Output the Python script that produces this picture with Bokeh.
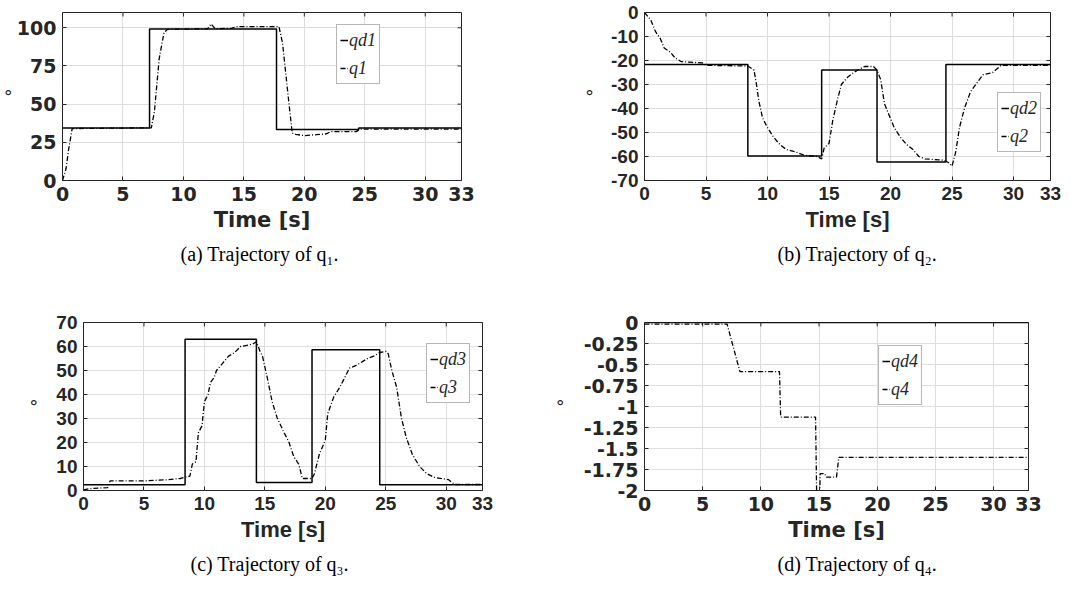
import math
from bokeh.plotting import figure
from bokeh.models import Range1d, FixedTicker, Legend, LegendItem, Title
from bokeh.layouts import column, row
from bokeh.embed import file_html
from bokeh.resources import INLINE

# ---------------- data ----------------
X_TICKS = [0, 5, 10, 15, 20, 25, 30, 33]
X_LABEL = "Time [s]"
Y_LABEL = "°"

# (a) joint 1
Y1_TICKS = [0, 25, 50, 75, 100]
Y1_LABELS = ["0", "25", "50", "75", "100"]
T_QD1 = [0, 7.2, 17.7, 24.5, 33]
QD1 = [34.3, 99.2, 33.4, 34.3, 34.3]
T_Q1 = [0, 0.3, 0.5, 0.8, 7.35, 7.6, 8.0, 8.4, 8.7, 12.0, 12.3, 12.6, 13.0, 14.0, 14.5,
        17.9, 18.2, 18.6, 19.0, 19.3, 20.0, 21.0, 21.8, 22.2, 24.3, 24.6, 33]
Q1 = [0, 8, 20, 34, 34.5, 45, 80, 97, 99, 99.3, 102.5, 99.5, 99.5, 99.7, 100.8,
      100.8, 90, 60, 31, 30.2, 29.4, 30, 30.5, 32, 32, 33.6, 33.6]

# (b) joint 2
Y2_TICKS = [-70, -60, -50, -40, -30, -20, -10, 0]
Y2_LABELS = ["-70", "-60", "-50", "-40", "-30", "-20", "-10", "0"]
T_QD2 = [0, 8.4, 14.4, 18.9, 24.5, 33]
QD2 = [-21.7, -59.8, -24.0, -62.3, -21.7, -21.7]
T_Q2 = [0, 0.5, 0.9, 1.3, 1.6, 2.1, 2.5, 3.0, 4.7, 5.0, 8.4, 8.9, 9.1, 9.3, 9.6, 10.0,
        10.5, 11.0, 11.5, 12.2, 13.0, 14.0, 14.4, 14.6, 15.0, 15.3, 15.7, 16.0, 16.5,
        17.0, 17.5, 17.9, 18.6, 18.9, 19.2, 19.5, 19.9, 20.3, 20.8, 21.3, 21.8, 22.3,
        22.8, 24.3, 24.7, 25.0, 25.3, 25.6, 26.0, 26.5, 27.0, 27.5, 28.3, 29.0, 33]
Q2 = [0, -3, -8, -11, -14.8, -16.5, -19, -20.5, -21, -22, -22.3, -24, -30, -37, -44,
      -48, -52, -55, -57, -58, -59.5, -60, -61, -56.5, -54.5, -45, -36, -30, -27, -25,
      -23.5, -22.5, -22.5, -24, -28, -38, -43, -48, -52, -55, -57, -60, -61, -61.5,
      -62.5, -64, -58, -48, -40, -33, -29.5, -26, -25, -22, -22]

# (c) joint 3
Y3_TICKS = [0, 10, 20, 30, 40, 50, 60, 70]
Y3_LABELS = ["0", "10", "20", "30", "40", "50", "60", "70"]
T_QD3 = [0, 8.4, 14.3, 18.9, 24.5, 33]
QD3 = [2.4, 63.0, 3.3, 58.6, 2.4, 2.4]
T_Q3 = [0, 0.5, 2.0, 2.2, 5.0, 7.0, 8.0, 8.4, 8.8, 9.0, 9.3, 9.5, 9.8, 10.0, 10.3, 10.5,
        10.8, 11.0, 11.5, 12.0, 12.5, 13.0, 13.5, 14.0, 14.3, 14.6, 14.8, 15.2, 15.6,
        16.0, 16.5, 17.0, 17.4, 17.8, 18.1, 18.9, 19.1, 19.5, 20.0, 20.2, 20.7, 21.2,
        21.5, 22.0, 22.5, 23.0, 23.5, 24.0, 24.5, 25.0, 25.2, 25.5, 25.9, 26.3, 26.7,
        27.2, 27.8, 28.4, 29.0, 30.2, 30.7, 33]
Q3 = [0.3, 0.8, 1.2, 4, 4, 4.5, 5, 5.5, 6, 11, 12, 24, 27, 37, 40, 45, 47, 50, 53, 56,
      57.5, 60, 60.5, 61, 62, 58, 56, 47, 37, 30.5, 25, 20, 14, 11, 5, 5, 7, 15, 21, 32,
      39, 43, 46, 51, 52, 53.5, 55, 56, 57.5, 58, 57, 50, 43, 30, 22, 15, 10, 7, 5.5,
      4.5, 2.5, 2.5]

# (d) joint 4
Y4_TICKS = [-2, -1.75, -1.5, -1.25, -1, -0.75, -0.5, -0.25, 0]
Y4_LABELS = ["-2", "-1.75", "-1.5", "-1.25", "-1", "-0.75", "-0.5", "-0.25", "0"]
T_QD4 = [0, 33]
QD4 = [0, 0]
T_Q4 = [0, 7.1, 8.2, 11.6, 11.7, 14.7, 14.8, 15.05, 15.1, 15.5, 15.6, 16.5, 16.7, 33]
Q4 = [-0.02, -0.02, -0.585, -0.585, -1.127, -1.127, -2.1, -2.1, -1.8, -1.8, -1.84,
      -1.84, -1.605, -1.605]

LEG_D = ["qd1", "qd2", "qd3", "qd4"]
LEG_Q = ["q1", "q2", "q3", "q4"]
CAPTIONS = ["(a) Trajectory of q\u2081.", "(b) Trajectory of q\u2082.",
            "(c) Trajectory of q\u2083.", "(d) Trajectory of q\u2084."]

TXT = "#262626"


def panel(i, fw, fh, bl, br, bt, bb, yr, yticks, ylabels, tdes, ydes, tact, yact,
          font, leg_xy, deg_standoff, cap_offset):
    p = figure(frame_width=fw, frame_height=fh, min_border_left=bl, min_border_right=br,
               min_border_top=bt, min_border_bottom=bb,
               x_range=Range1d(0, 33), y_range=Range1d(*yr),
               output_backend="svg", toolbar_location=None, title=None)
    p.xaxis.ticker = FixedTicker(ticks=X_TICKS)
    p.xaxis.major_label_overrides = {v: str(v) for v in X_TICKS}
    p.yaxis.ticker = FixedTicker(ticks=yticks)
    p.yaxis.major_label_overrides = {v: s for v, s in zip(yticks, ylabels)}
    p.grid.grid_line_color = "#dedede"
    p.grid.grid_line_width = 1
    p.outline_line_color = TXT
    p.outline_line_width = 1
    p.outline_line_alpha = 1
    p.axis.axis_line_color = None
    p.axis.major_tick_in = 4
    p.axis.major_tick_out = 0
    p.axis.major_tick_line_color = TXT
    p.axis.minor_tick_line_color = None
    p.axis.major_label_text_font = font
    p.axis.major_label_text_font_style = "bold"
    p.axis.major_label_text_font_size = "19px"
    p.axis.major_label_text_color = TXT
    p.axis.major_label_standoff = 6
    p.xaxis.axis_label = X_LABEL
    p.xaxis.axis_label_text_font = font
    p.xaxis.axis_label_text_font_style = "bold"
    p.xaxis.axis_label_text_font_size = "21px" if font.startswith("DejaVu") else "22px"
    p.xaxis.axis_label_text_color = TXT
    p.xaxis.axis_label_standoff = 4
    p.yaxis.axis_label = Y_LABEL
    p.yaxis.axis_label_orientation = "horizontal"
    p.yaxis.axis_label_text_font = "DejaVu Sans"
    p.yaxis.axis_label_text_font_style = "normal"
    p.yaxis.axis_label_text_font_size = "18px"
    p.yaxis.axis_label_text_color = TXT
    p.yaxis.axis_label_standoff = deg_standoff

    # inward tick marks on the top and right edges of the box
    p.scatter(X_TICKS, [yr[1]] * len(X_TICKS), marker="dash", size=8, angle=math.pi / 2,
              line_color=TXT, line_width=1)
    p.scatter([33] * len(yticks), yticks, marker="dash", size=8,
              line_color=TXT, line_width=1)

    r1 = p.step(tdes, ydes, mode="after", line_color="black", line_width=1.5)
    r2 = p.line(tact, yact, line_color="black", line_width=1.3, line_dash="5 2 1 2")

    leg = Legend(items=[LegendItem(label=LEG_D[i], renderers=[r1]),
                        LegendItem(label=LEG_Q[i], renderers=[r2])],
                 location=leg_xy, margin=0, padding=3, spacing=4,
                 glyph_width=8, glyph_height=24, label_height=24, label_standoff=1,
                 label_text_font="Liberation Serif", label_text_font_style="italic",
                 label_text_font_size="18px", label_text_color=TXT,
                 border_line_color="#707070", border_line_width=1,
                 background_fill_color="white", background_fill_alpha=1)
    p.add_layout(leg)

    p.add_layout(Title(text=CAPTIONS[i], align="left", offset=cap_offset, standoff=12,
                       text_font="Liberation Serif", text_font_size="20px",
                       text_font_style="normal", text_color="black"), "below")
    return p


pa = panel(0, 399, 168, 62, 79, 12, 120, (0, 110), Y1_TICKS, Y1_LABELS, T_QD1, QD1,
           T_Q1, Q1, "DejaVu Sans", (274, 96), 1, 118)
pb = panel(1, 406, 168, 104, 21, 12, 120, (-70, 0), Y2_TICKS, Y2_LABELS, T_QD2, QD2,
           T_Q2, Q2, "Liberation Sans", (353, 28), 14, 133)
pc = panel(2, 399, 168, 83, 58, 22, 100, (0, 70), Y3_TICKS, Y3_LABELS, T_QD3, QD3,
           T_Q3, Q3, "Liberation Sans", (343, 87), 15, 107)
pd = panel(3, 384, 168, 104, 43, 22, 100, (-2, 0), Y4_TICKS, Y4_LABELS, T_QD4, QD4,
           T_Q4, Q4, "DejaVu Sans", (234, 85), 16, 133)

layout = column(row(pa, pb), row(pc, pd))
open("out.html", "w").write(file_html(layout, INLINE))
